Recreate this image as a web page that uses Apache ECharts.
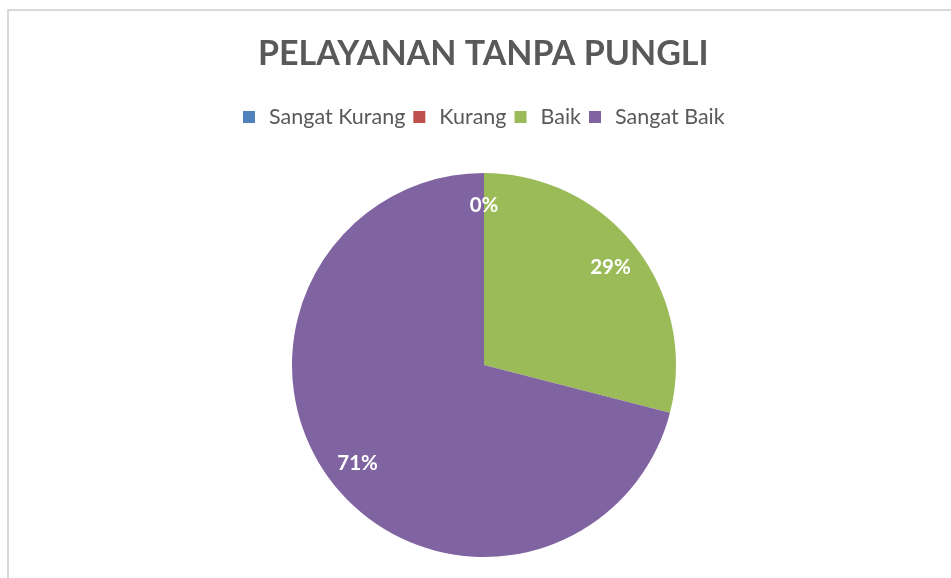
<!DOCTYPE html>
<html>
<head>
<meta charset="utf-8">
<script src="https://cdn.jsdelivr.net/npm/echarts@6/dist/echarts.min.js"></script>
<style>
html,body{margin:0;padding:0;background:#fff;}
#frame{position:absolute;left:7px;top:9px;right:0;bottom:0;border-left:2px solid #d9d9d9;border-top:2px solid #d9d9d9;}
#chart{position:absolute;left:0;top:0;width:951px;height:578px;}
</style>
</head>
<body>
<div id="frame"></div>
<div id="chart"></div>
<script>
// kategori dan nilai (persen)
var kategori = ['Sangat Kurang', 'Kurang', 'Baik', 'Sangat Baik'];
var nilai = [0, 0, 29, 71];
var warna = ['#4F81BD', '#C0504D', '#9BBB59', '#8064A2'];

var fontUtama = 'Lato, "Open Sans", sans-serif';

function buatData() {
	var res = [];
	for (var i = 0; i < kategori.length; i++) {
		res.push({name: kategori[i], value: nilai[i]});
	}
	return res;
}

var myChart = echarts.init(document.getElementById('chart'), null, {renderer: 'canvas'});
var option = {
	backgroundColor: 'transparent',
	color: warna,
	animation: false,
	title: {
		text: 'PELAYANAN TANPA PUNGLI',
		left: 253,
		top: 32,
		textStyle: {
			fontFamily: fontUtama,
			fontSize: 34,
			fontWeight: 'bold',
			color: '#595959'
		}
	},
	legend: {
		data: kategori,
		top: 101,
		left: 238,
		itemWidth: 12,
		itemHeight: 12,
		itemGap: 8,
		icon: 'rect',
		textStyle: {
			fontFamily: fontUtama,
			fontSize: 21.5,
			color: '#595959',
			padding: [0, 0, 0, 9]
		}
	},
	series: [
		{
			// pie utama
			name: 'Pelayanan',
			type: 'pie',
			center: [484, 365],
			radius: 192,
			startAngle: 90,
			clockwise: true,
			silent: true,
			label: {show: false},
			labelLine: {show: false},
			itemStyle: {borderWidth: 0},
			data: buatData()
		},
		{
			// lapisan transparan hanya untuk label persen
			name: 'Label',
			type: 'pie',
			center: [484, 365],
			radius: [122, 192],
			startAngle: 90,
			clockwise: true,
			silent: true,
			legendHoverLink: false,
			itemStyle: {color: 'rgba(0,0,0,0)'},
			label: {
				show: true,
				position: 'inside',
				formatter: function (p) { return p.value + '%'; },
				fontFamily: fontUtama,
				fontSize: 20.5,
				fontWeight: 'bold',
				color: '#ffffff'
			},
			labelLine: {show: false},
			data: buatData()
		}
	]
};
myChart.setOption(option);
window.addEventListener("resize", function () {
	myChart.resize();
});
</script>
</body>
</html>
